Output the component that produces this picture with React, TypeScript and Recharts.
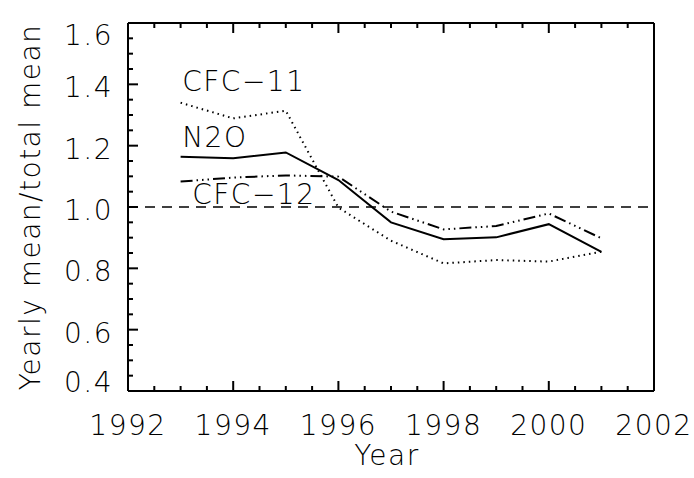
import React from 'react';
import { LineChart, Line, XAxis, YAxis, ReferenceLine, ReferenceDot } from 'recharts';

// yearly mean divided by the mean over all years
const years = [1993, 1994, 1995, 1996, 1997, 1998, 1999, 2000, 2001];
const n2o = [1.164, 1.159, 1.178, 1.088, 0.95, 0.895, 0.901, 0.944, 0.854];
const cfc11 = [1.34, 1.289, 1.314, 0.998, 0.89, 0.816, 0.827, 0.822, 0.854];
const cfc12 = [1.083, 1.096, 1.103, 1.099, 0.985, 0.927, 0.938, 0.979, 0.898];

const xLabels = [1992, 1994, 1996, 1998, 2000, 2002];
const yLabels = [0.4, 0.6, 0.8, 1.0, 1.2, 1.4, 1.6];

const data = years.map((year, i) => ({
  year,
  n2o: n2o[i],
  cfc11: cfc11[i],
  cfc12: cfc12[i],
}));

// minor ticks: every half year, every 0.05 on y
const xTicks: number[] = [];
for (let i = 0; i <= 20; i++) xTicks.push(1992 + i * 0.5);
const yTicks: number[] = [];
for (let i = 0; i <= 24; i++) yTicks.push(Math.round((0.4 + i * 0.05) * 100) / 100);

const FONT = '"DejaVu Sans", sans-serif';
const textStyle = { fontFamily: FONT, fontSize: 28, fontWeight: 200, fill: '#000', letterSpacing: 1.5 };

const isMajorX = (v: number) => xLabels.includes(v);
const isMajorY = (v: number) => yLabels.some((l) => Math.abs(l - v) < 1e-6);

function BottomTick({ x, y, payload }: any) {
  const major = isMajorX(payload.value);
  return (
    <g>
      <line x1={x} y1={y} x2={x} y2={y - (major ? 10 : 5)} stroke="#000" strokeWidth={2} />
      {major && (
        <text x={x} y={y + 44} textAnchor="middle" style={textStyle}>
          {payload.value}
        </text>
      )}
    </g>
  );
}

function TopTick({ x, y, payload }: any) {
  const major = isMajorX(payload.value);
  return <line x1={x} y1={y} x2={x} y2={y + (major ? 10 : 5)} stroke="#000" strokeWidth={2} />;
}

function LeftTick({ x, y, payload }: any) {
  const v = payload.value;
  const major = isMajorY(v);
  // end labels sit inside the frame, as in the original plot
  let dy = 13;
  if (Math.abs(v - 1.6) < 1e-6) dy = 22;
  if (Math.abs(v - 0.4) < 1e-6) dy = 1;
  return (
    <g>
      <line x1={x} y1={y} x2={x + (major ? 10 : 5)} y2={y} stroke="#000" strokeWidth={2} />
      {major && (
        <text x={x - 15} y={y + dy} textAnchor="end" style={textStyle}>
          {v.toFixed(1)}
        </text>
      )}
    </g>
  );
}

function RightTick({ x, y, payload }: any) {
  const major = isMajorY(payload.value);
  return <line x1={x} y1={y} x2={x - (major ? 10 : 5)} y2={y} stroke="#000" strokeWidth={2} />;
}

const seriesLabel = (text: string) => ({ viewBox }: any) => (
  <text x={viewBox.x} y={viewBox.y + 10} textAnchor="start" style={textStyle}>
    {text}
  </text>
);

const frame = { stroke: '#000', strokeWidth: 2 };

export default function App() {
  return (
    <div style={{ position: 'absolute', left: 0, top: 0, width: 694, height: 478, background: '#fff' }}>
      <LineChart
        width={694}
        height={478}
        data={data}
        margin={{ top: 22, right: 39, bottom: 27, left: 28 }}
      >
        <XAxis
          dataKey="year"
          type="number"
          domain={[1992, 2002]}
          ticks={xTicks}
          interval={0}
          height={60}
          tickSize={0}
          tickMargin={0}
          tick={(p: any) => <BottomTick {...p} />}
          axisLine={frame}
          tickLine={false}
        />
        <XAxis
          xAxisId="top"
          orientation="top"
          dataKey="year"
          type="number"
          domain={[1992, 2002]}
          ticks={xTicks}
          interval={0}
          height={1}
          tickSize={0}
          tickMargin={0}
          tick={(p: any) => <TopTick {...p} />}
          axisLine={frame}
          tickLine={false}
        />
        <YAxis
          type="number"
          domain={[0.4, 1.6]}
          ticks={yTicks}
          interval={0}
          width={100}
          tickSize={0}
          tickMargin={0}
          tick={(p: any) => <LeftTick {...p} />}
          axisLine={frame}
          tickLine={false}
        />
        <YAxis
          yAxisId="right"
          orientation="right"
          type="number"
          domain={[0.4, 1.6]}
          ticks={yTicks}
          interval={0}
          width={1}
          tickSize={0}
          tickMargin={0}
          tick={(p: any) => <RightTick {...p} />}
          axisLine={frame}
          tickLine={false}
        />
        <ReferenceLine y={1} stroke="#000" strokeWidth={1.5} strokeDasharray="10 7" />
        <Line
          dataKey="cfc11"
          stroke="#000"
          strokeWidth={2}
          strokeDasharray="1.5 4"
          dot={false}
          isAnimationActive={false}
        />
        <Line
          dataKey="n2o"
          stroke="#000"
          strokeWidth={2}
          dot={false}
          isAnimationActive={false}
        />
        <Line
          dataKey="cfc12"
          stroke="#000"
          strokeWidth={2}
          strokeDasharray="12 4 1.5 4 1.5 4 1.5 4"
          dot={false}
          isAnimationActive={false}
        />
        <ReferenceDot x={1993.03} y={1.41} r={0} stroke="none" label={seriesLabel('CFC\u221211')} />
        <ReferenceDot x={1993.03} y={1.228} r={0} stroke="none" label={seriesLabel('N2O')} />
        <ReferenceDot x={1993.22} y={1.042} r={0} stroke="none" label={seriesLabel('CFC\u221212')} />
        <text x={387} y={465} textAnchor="middle" style={textStyle}>
          Year
        </text>
        <text
          x={40}
          y={207}
          textAnchor="middle"
          transform="rotate(-90 40 207)"
          style={textStyle}
        >
          Yearly mean/total mean
        </text>
      </LineChart>
    </div>
  );
}
